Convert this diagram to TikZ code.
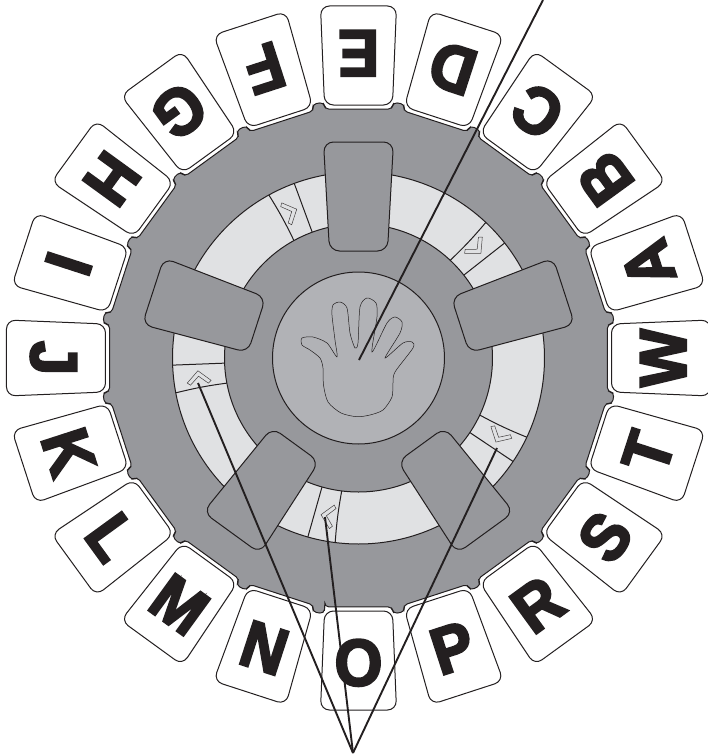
\documentclass[tikz,border=0pt]{standalone}
\usepackage{fontspec}
\setmainfont{DejaVu Sans}
\newfontfamily\cardfont[BoldFeatures={FakeBold=3.5,FakeStretch=0.93}]{Liberation Sans}
\definecolor{gearc}{RGB}{151,152,156}
\definecolor{ringc}{RGB}{224,225,227}
\definecolor{hubc}{RGB}{177,178,182}
\definecolor{ink}{RGB}{35,31,32}
\tikzset{
  thinline/.style={draw=ink,line width=1pt},
  cardbox/.style={thinline,fill=white,rounded corners=9pt},
  paddle/.style={thinline,fill=gearc,rounded corners=10pt},
  chevron/.style={draw=ink!85,line width=0.5pt,fill=ringc},
  letter/.style={font=\cardfont\bfseries\fontsize{66}{66}\selectfont,text=ink,inner sep=0pt,text height=47pt,text depth=0pt,anchor=center},
  leader/.style={draw=ink,line width=1.9pt},
}
\begin{document}
\begin{tikzpicture}[x=1pt,y=1pt]
\useasboundingbox (-358.5,358) rectangle (349.5,-398);
% gear
\draw[thinline,fill=gearc,rounded corners=4pt] (-97.7:251.2)
  \foreach \a in {-90,-72,...,252}{
    -- ({\a-7.7}:251.2) -- ({\a+7.7}:251.2) -- ({\a+7.7}:258) -- ({\a+10.3}:258)
  } -- cycle;
% ring
\draw[thinline,fill=ringc] (0,0) circle[radius=186];
\foreach \a in {114.5,42.5,-29.5,-101.5,-173.5}{
  \draw[thinline] ({\a-4.3}:134) -- ({\a-4.3}:186);
  \draw[thinline] ({\a+4.3}:134) to[bend right=3] ({\a+4.3}:186);
  \begin{scope}[rotate=\a-90,shift={(0,161)},rotate=-90]
    \draw[chevron] (0,5.5) -- (12,-5.5) -- (9,-8) -- (0,0) -- (-9,-8) -- (-12,-5.5) -- cycle;
  \end{scope}
}
\draw[thinline,fill=gearc] (0,0) circle[radius=134];
\draw[thinline,fill=hubc] (0,0) circle[radius=86];
% hand, in pixel coordinates of the reference
\begin{scope}[shift={(-358.5,358)},yscale=-1]
\draw[draw=ink,line width=0.5pt] plot[smooth cycle,tension=0.45] coordinates {
  (356.7,416.7) (341,413) (328,402) (323.5,385) (323,368) (320,358) (310,350) (302,345) (302,338)
  (313,337) (327,343) (337,357) (335,340) (332,315) (333,305) (340,302) (347,308) (350,333) (355,348)
  (358,343) (360,307) (367,298) (376,303) (377,317) (372,352) (387,323) (395,317) (402,322) (400,333) (385,358)
  (403,343) (412,342) (413,348) (395,372) (393,383) (392,397) (383,410) (370,415)};
\coordinate (palm) at (359,360);
\coordinate (topend) at (543,0);
\coordinate (apex) at (353,753);
\coordinate (chevL) at (198,383);
\coordinate (chevB) at (325,517);
\coordinate (chevR) at (497,448);
\end{scope}
% paddles
\foreach \a in {90,18,-54,-126,162}{
  \begin{scope}[rotate=\a-90]
    \draw[paddle] (-35,216) -- (35,216) -- (29,107) -- (-29,107) -- cycle;
  \end{scope}
}
% cards
\foreach \a/\l in {90/E,72/D,54/C,36/B,18/A,0/W,-18/T,-36/S,-54/R,-72/P,-90/O,-108/N,-126/M,-144/L,-162/K,180/J,162/I,144/H,126/G,108/F}{
  \begin{scope}[rotate=\a+90]
    \draw[cardbox] (-34,-253) -- (34,-253) -- (38,-352) -- (-38,-352) -- cycle;
  \end{scope}
  \node[letter,rotate=\a+90] (card\l) at (\a:304) {\l};
}
% leaders
\draw[leader] (palm) -- (topend);
\draw[leader] (chevL) -- (apex);
\draw[leader] (chevB) -- (apex);
\draw[leader] (chevR) -- (apex);
\end{tikzpicture}
\end{document}
